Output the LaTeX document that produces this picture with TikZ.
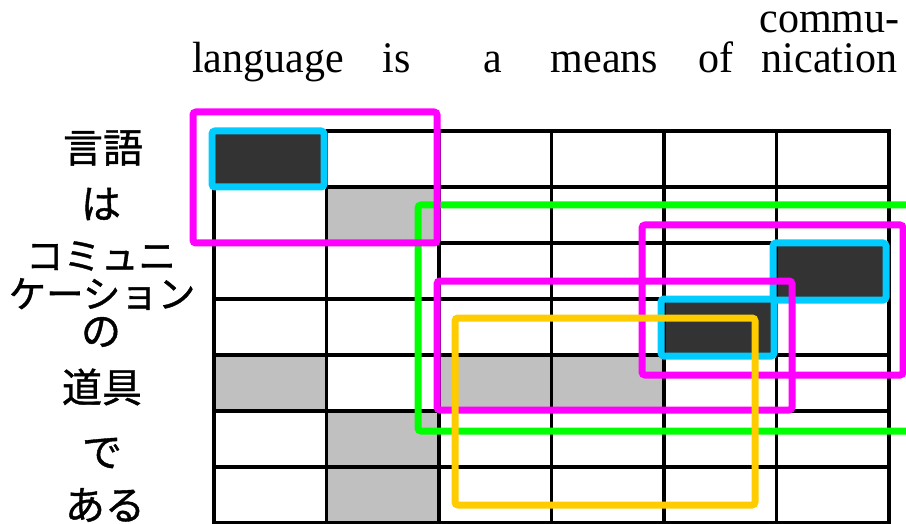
\documentclass[tikz,border=0pt]{standalone}
\usepackage{fontspec}
\setmainfont{Liberation Serif}
\newfontfamily\jpfont[FakeBold=1]{Noto Sans CJK JP}
\definecolor{cellgray}{HTML}{C0C0C0}
\definecolor{celldark}{HTML}{333333}
\definecolor{hlmagenta}{HTML}{FF00FF}
\definecolor{hlgreen}{HTML}{00FF00}
\definecolor{hlcyan}{HTML}{00CCFF}
\definecolor{hlyellow}{HTML}{FFCC00}
\begin{document}
\begin{tikzpicture}[x=1pt,y=-1pt,
  gridline/.style={line width=3.5pt, black, line cap=rect},
  hlbox/.style={line width=7pt, rounded corners=3pt},
  enword/.style={font=\fontsize{42}{39}\selectfont, anchor=base, inner sep=0pt, yscale=1.04},
  jaword/.style={font=\jpfont\fontsize{40}{40}\selectfont, inner sep=0pt},
  jakana/.style={font=\jpfont\fontsize{37.5}{38}\selectfont, inner sep=0pt},
]
\useasboundingbox (0,0) rectangle (906,524);

% shaded cells of the alignment matrix
\fill[cellgray] (326.5,187) rectangle (439,243);
\fill[cellgray] (214,355) rectangle (326.5,411);
\fill[cellgray] (439,355) rectangle (664,411);
\fill[cellgray] (326.5,411) rectangle (439,523);
\fill[celldark] (214,131) rectangle (326.5,187);
\fill[celldark] (776.5,243) rectangle (889,299);
\fill[celldark] (664,299) rectangle (776.5,355);

% grid lines
\foreach \gx in {214,326.5,439,551.5,664,776.5,889}
  \draw[gridline] (\gx,131) -- (\gx,523);
\foreach \gy in {131,187,243,299,355,411,467,523}
  \draw[gridline] (214,\gy) -- (889,\gy);

% highlighted phrase blocks
\draw[hlbox, hlcyan] (212,131) rectangle (324,187);
\draw[hlbox, hlcyan] (773,243) rectangle (886,300);
\draw[hlbox, hlcyan] (661,299) rectangle (774,356);
\draw[hlbox, hlgreen] (925,205) -- (418,205) -- (418,431) -- (925,431);
\draw[hlbox, hlmagenta] (193,112) rectangle (437,243);
\draw[hlbox, hlmagenta] (642,225) rectangle (903,375);
\draw[hlbox, hlmagenta] (437,281) rectangle (792,410);
\draw[hlbox, hlyellow] (455,318) rectangle (755,505);

% English words along the top
\node[enword] (en1) at (268,73) {language};
\node[enword] (en2) at (396.5,73) {is};
\node[enword] (en3) at (492.5,73) {a};
\node[enword] (en4) at (604.5,73) {means};
\node[enword] (en5) at (716,73) {of};
\node[enword, align=center] (en6) at (829.5,73) {commu-\\nication};

% Japanese words down the left side
\node[jaword] (ja1) at (103,148) {言語};
\node[jaword] (ja2) at (101,204) {は};
\node[jakana] (ja3a) at (101,256) {コミュニ};
\node[jakana] (ja3b) at (102,294) {ケーション};
\node[jaword] (ja4) at (101,332) {の};
\node[jaword] (ja5) at (102,387) {道具};
\node[jaword] (ja6) at (102,453) {で};
\node[jaword] (ja7) at (105,505) {ある};
\end{tikzpicture}
\end{document}
